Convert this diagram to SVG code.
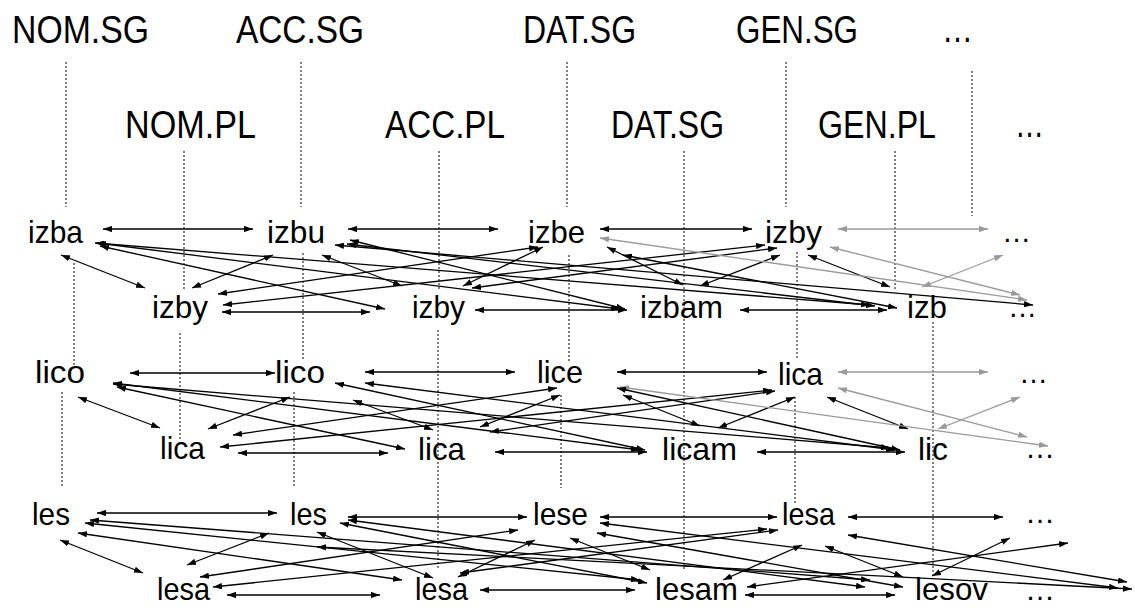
<svg xmlns="http://www.w3.org/2000/svg" width="1135" height="610" viewBox="0 0 1135 610">
<defs>
<marker id="ah" viewBox="0 0 10 7" refX="10" refY="3.5" markerWidth="9" markerHeight="6.3" markerUnits="userSpaceOnUse" orient="auto-start-reverse"><path d="M0,0 L10,3.5 L0,7 z" fill="#000"/></marker>
<marker id="ahg" viewBox="0 0 10 7" refX="10" refY="3.5" markerWidth="9" markerHeight="6.3" markerUnits="userSpaceOnUse" orient="auto-start-reverse"><path d="M0,0 L10,3.5 L0,7 z" fill="#999"/></marker>
</defs>
<style>
.hd{font-family:"Liberation Sans",Arial,sans-serif;font-size:38px;fill:#000}
.nd{font-family:"Liberation Sans",Arial,sans-serif;font-size:32px;fill:#000}
.dot line{stroke:#000;stroke-width:1;stroke-dasharray:2,2}
.e line{stroke:#000;stroke-width:1.3;marker-start:url(#ah);marker-end:url(#ah)}
.e line.g{stroke:#999;marker-start:url(#ahg);marker-end:url(#ahg)}
</style>
<rect width="1135" height="610" fill="#fff"/>
<g id="headers">
<text class="hd" x="12" y="43" textLength="137" lengthAdjust="spacingAndGlyphs">NOM.SG</text>
<text class="hd" x="236" y="43" textLength="128" lengthAdjust="spacingAndGlyphs">ACC.SG</text>
<text class="hd" x="523" y="43" textLength="113" lengthAdjust="spacingAndGlyphs">DAT.SG</text>
<text class="hd" x="736" y="43" textLength="122" lengthAdjust="spacingAndGlyphs">GEN.SG</text>
<text class="hd" x="942" y="42" textLength="31" lengthAdjust="spacingAndGlyphs">…</text>
<text class="hd" x="125" y="138" textLength="131" lengthAdjust="spacingAndGlyphs">NOM.PL</text>
<text class="hd" x="385" y="138" textLength="120" lengthAdjust="spacingAndGlyphs">ACC.PL</text>
<text class="hd" x="611" y="138" textLength="113" lengthAdjust="spacingAndGlyphs">DAT.SG</text>
<text class="hd" x="818" y="138" textLength="118" lengthAdjust="spacingAndGlyphs">GEN.PL</text>
<text class="hd" x="1015" y="137" textLength="29" lengthAdjust="spacingAndGlyphs">…</text>
</g>
<g id="guides" class="dot">
<line x1="66" y1="62" x2="66" y2="207"/><line x1="74" y1="263" x2="74" y2="365"/><line x1="62" y1="392" x2="62" y2="488"/>
<line x1="184" y1="151" x2="184" y2="290"/><line x1="180" y1="333" x2="180" y2="440"/>
<line x1="301" y1="62" x2="301" y2="207"/><line x1="303" y1="253" x2="303" y2="360"/><line x1="294" y1="392" x2="294" y2="488"/>
<line x1="439" y1="151" x2="439" y2="290"/><line x1="438" y1="330" x2="438" y2="570"/>
<line x1="567" y1="62" x2="567" y2="207"/><line x1="569" y1="255" x2="569" y2="362"/><line x1="561" y1="395" x2="561" y2="488"/>
<line x1="684" y1="151" x2="684" y2="570"/>
<line x1="786" y1="62" x2="786" y2="207"/><line x1="797" y1="252" x2="797" y2="358"/><line x1="795" y1="397" x2="795" y2="503"/>
<line x1="895" y1="151" x2="895" y2="290"/><line x1="933" y1="322" x2="933" y2="577"/>
<line x1="972" y1="71" x2="972" y2="216"/>
</g>
<g id="connectors" class="e">
<!-- paradigm izba -->
<line x1="103" y1="229" x2="253" y2="229"/>
<line x1="348" y1="229" x2="498" y2="229"/>
<line x1="600" y1="229" x2="752" y2="229"/>
<line class="g" x1="838" y1="229" x2="988" y2="229"/>
<line x1="222" y1="312" x2="370" y2="312"/>
<line x1="475" y1="310" x2="627" y2="310"/>
<line x1="740" y1="310" x2="887" y2="310"/>
<line x1="61" y1="255" x2="145" y2="288"/>
<line x1="273" y1="255" x2="192" y2="288"/>
<line x1="100" y1="246" x2="385" y2="309"/>
<line x1="322" y1="255" x2="402" y2="286"/>
<line x1="218" y1="294" x2="538" y2="247"/>
<line x1="223" y1="305" x2="765" y2="245"/>
<line x1="463" y1="286" x2="543" y2="247"/>
<line x1="472" y1="288" x2="777" y2="248"/>
<line x1="607" y1="247" x2="683" y2="285"/>
<line x1="780" y1="255" x2="700" y2="286"/>
<line x1="808" y1="255" x2="890" y2="287"/>
<line class="g" x1="1003" y1="255" x2="922" y2="287"/>
<line class="g" x1="830" y1="247" x2="1020" y2="295"/>
<line class="g" x1="600" y1="238" x2="1027" y2="300"/>
<line x1="97" y1="243" x2="620" y2="309"/>
<line x1="95" y1="243" x2="870" y2="305"/>
<line x1="350" y1="240" x2="625" y2="309"/>
<line x1="347" y1="244" x2="875" y2="306"/>
<line x1="623" y1="255" x2="897" y2="308"/>
<line x1="335" y1="245" x2="1033" y2="305"/>
<!-- paradigm lico -->
<line x1="130" y1="373" x2="275" y2="373"/>
<line x1="365" y1="372" x2="515" y2="372"/>
<line x1="617" y1="372" x2="767" y2="372"/>
<line class="g" x1="838" y1="372" x2="988" y2="372"/>
<line x1="238" y1="453" x2="388" y2="453"/>
<line x1="495" y1="452" x2="647" y2="452"/>
<line x1="757" y1="452" x2="905" y2="452"/>
<line x1="78" y1="397" x2="160" y2="428"/>
<line x1="290" y1="397" x2="208" y2="429"/>
<line x1="117" y1="387" x2="405" y2="449"/>
<line x1="353" y1="400" x2="433" y2="430"/>
<line x1="233" y1="435" x2="557" y2="388"/>
<line x1="220" y1="447" x2="772" y2="390"/>
<line x1="480" y1="427" x2="560" y2="395"/>
<line x1="490" y1="432" x2="775" y2="391"/>
<line x1="623" y1="395" x2="700" y2="426"/>
<line x1="795" y1="397" x2="718" y2="428"/>
<line x1="827" y1="397" x2="908" y2="429"/>
<line class="g" x1="1020" y1="397" x2="938" y2="429"/>
<line class="g" x1="838" y1="388" x2="1027" y2="437"/>
<line class="g" x1="620" y1="387" x2="1048" y2="446"/>
<line x1="113" y1="383" x2="640" y2="450"/>
<line x1="113" y1="384" x2="890" y2="448"/>
<line x1="335" y1="383" x2="645" y2="450"/>
<line x1="365" y1="383" x2="895" y2="450"/>
<line x1="617" y1="388" x2="900" y2="450"/>
<!-- paradigm les -->
<line x1="97" y1="513" x2="277" y2="513"/>
<line x1="348" y1="517" x2="527" y2="517"/>
<line x1="600" y1="517" x2="777" y2="517"/>
<line x1="848" y1="517" x2="1003" y2="517"/>
<line x1="227" y1="595" x2="380" y2="595"/>
<line x1="480" y1="590" x2="635" y2="590"/>
<line x1="745" y1="595" x2="895" y2="595"/>
<line x1="60" y1="540" x2="143" y2="573"/>
<line x1="269" y1="533" x2="187" y2="565"/>
<line x1="78" y1="533" x2="402" y2="580"/>
<line x1="317" y1="532" x2="433" y2="578"/>
<line x1="200" y1="577" x2="518" y2="530"/>
<line x1="213" y1="587" x2="767" y2="529"/>
<line x1="458" y1="577" x2="535" y2="540"/>
<line x1="460" y1="573" x2="778" y2="530"/>
<line x1="570" y1="538" x2="650" y2="570"/>
<line x1="802" y1="545" x2="723" y2="580"/>
<line x1="825" y1="546" x2="903" y2="577"/>
<line x1="1010" y1="538" x2="932" y2="576"/>
<line x1="848" y1="535" x2="1127" y2="582"/>
<line x1="600" y1="523" x2="1118" y2="588"/>
<line x1="85" y1="523" x2="640" y2="580"/>
<line x1="90" y1="520" x2="870" y2="580"/>
<line x1="340" y1="523" x2="647" y2="583"/>
<line x1="348" y1="520" x2="865" y2="587"/>
<line x1="597" y1="533" x2="903" y2="587"/>
<line x1="747" y1="587" x2="1068" y2="543"/>
<line x1="317" y1="547" x2="1132" y2="589"/>
</g>
<g id="n-izba"><text class="nd" x="28" y="243" textLength="55" lengthAdjust="spacingAndGlyphs">izba</text></g>
<g id="n-izbu"><text class="nd" x="267" y="243" textLength="58" lengthAdjust="spacingAndGlyphs">izbu</text></g>
<g id="n-izbe"><text class="nd" x="528" y="243" textLength="57" lengthAdjust="spacingAndGlyphs">izbe</text></g>
<g id="n-izby-gensg"><text class="nd" x="765" y="243" textLength="57" lengthAdjust="spacingAndGlyphs">izby</text></g>
<g id="n-dots-1"><text class="nd" x="1002" y="242" textLength="29" lengthAdjust="spacingAndGlyphs">…</text></g>
<g id="n-izby-nompl"><text class="nd" x="152" y="318" textLength="56" lengthAdjust="spacingAndGlyphs">izby</text></g>
<g id="n-izby-accpl"><text class="nd" x="412" y="318" textLength="53" lengthAdjust="spacingAndGlyphs">izby</text></g>
<g id="n-izbam"><text class="nd" x="640" y="318" textLength="83" lengthAdjust="spacingAndGlyphs">izbam</text></g>
<g id="n-izb"><text class="nd" x="907" y="318" textLength="40" lengthAdjust="spacingAndGlyphs">izb</text></g>
<g id="n-dots-2"><text class="nd" x="1008" y="317" textLength="29" lengthAdjust="spacingAndGlyphs">…</text></g>
<g id="n-lico-1"><text class="nd" x="35" y="383" textLength="50" lengthAdjust="spacingAndGlyphs">lico</text></g>
<g id="n-lico-2"><text class="nd" x="275" y="383" textLength="50" lengthAdjust="spacingAndGlyphs">lico</text></g>
<g id="n-lice"><text class="nd" x="537" y="383" textLength="46" lengthAdjust="spacingAndGlyphs">lice</text></g>
<g id="n-lica-gensg"><text class="nd" x="778" y="385" textLength="45" lengthAdjust="spacingAndGlyphs">lica</text></g>
<g id="n-dots-3"><text class="nd" x="1019" y="383" textLength="29" lengthAdjust="spacingAndGlyphs">…</text></g>
<g id="n-lica-1"><text class="nd" x="160" y="459" textLength="45" lengthAdjust="spacingAndGlyphs">lica</text></g>
<g id="n-lica-2"><text class="nd" x="418" y="460" textLength="47" lengthAdjust="spacingAndGlyphs">lica</text></g>
<g id="n-licam"><text class="nd" x="662" y="460" textLength="75" lengthAdjust="spacingAndGlyphs">licam</text></g>
<g id="n-lic"><text class="nd" x="918" y="460" textLength="30" lengthAdjust="spacingAndGlyphs">lic</text></g>
<g id="n-dots-4"><text class="nd" x="1025" y="458" textLength="30" lengthAdjust="spacingAndGlyphs">…</text></g>
<g id="n-les-1"><text class="nd" x="32" y="525" textLength="38" lengthAdjust="spacingAndGlyphs">les</text></g>
<g id="n-les-2"><text class="nd" x="290" y="525" textLength="37" lengthAdjust="spacingAndGlyphs">les</text></g>
<g id="n-lese"><text class="nd" x="533" y="525" textLength="55" lengthAdjust="spacingAndGlyphs">lese</text></g>
<g id="n-lesa-gensg"><text class="nd" x="782" y="525" textLength="53" lengthAdjust="spacingAndGlyphs">lesa</text></g>
<g id="n-dots-5"><text class="nd" x="1025" y="523" textLength="30" lengthAdjust="spacingAndGlyphs">…</text></g>
<g id="n-lesa-1"><text class="nd" x="157" y="600" textLength="53" lengthAdjust="spacingAndGlyphs">lesa</text></g>
<g id="n-lesa-2"><text class="nd" x="415" y="600" textLength="53" lengthAdjust="spacingAndGlyphs">lesa</text></g>
<g id="n-lesam"><text class="nd" x="655" y="600" textLength="83" lengthAdjust="spacingAndGlyphs">lesam</text></g>
<g id="n-lesov"><text class="nd" x="915" y="600" textLength="73" lengthAdjust="spacingAndGlyphs">lesov</text></g>
<g id="n-dots-6"><text class="nd" x="1025" y="600" textLength="30" lengthAdjust="spacingAndGlyphs">…</text></g>
</svg>
